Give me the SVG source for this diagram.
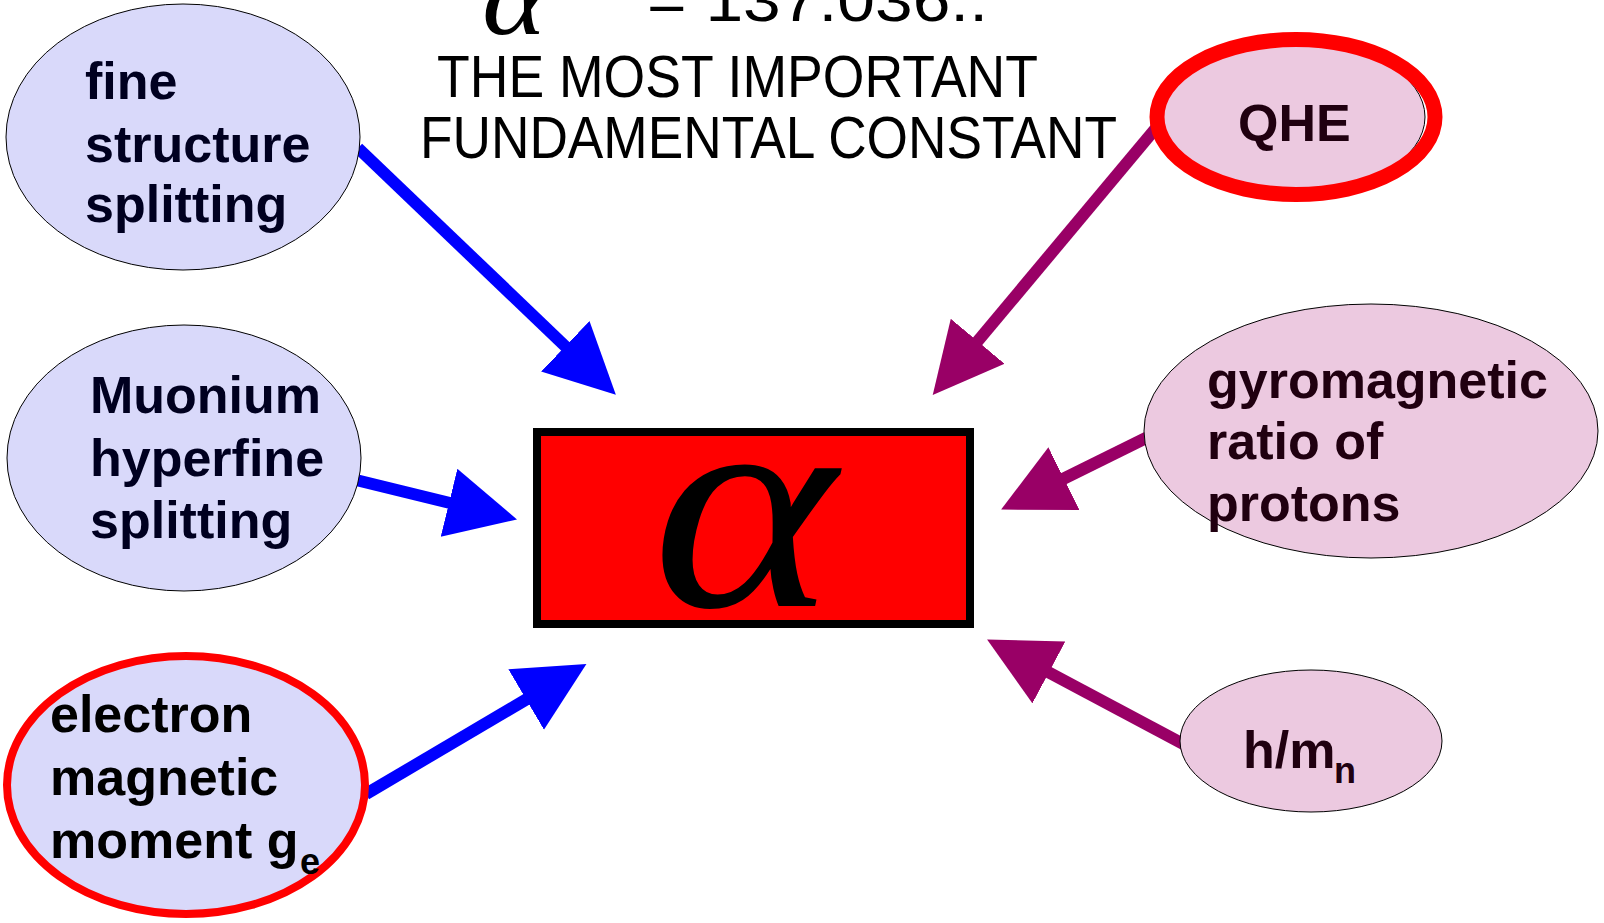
<svg xmlns="http://www.w3.org/2000/svg" width="1604" height="923" viewBox="0 0 1604 923">
<style>
.lav{fill:#d9d9fa;stroke:#000;stroke-width:1}
.pink{fill:#ecc9e0;stroke:#000;stroke-width:1}
.red{stroke:#ff0000}
.lbl{font-family:"Liberation Sans",Arial,sans-serif;font-weight:bold;font-size:52px}
.navy{fill:#000020}
.plum{fill:#200010}
.title{font-family:"Liberation Sans",Arial,sans-serif;font-size:60px;fill:#000}
.blue{stroke:#0000ff;stroke-width:12;fill:none}
.purp{stroke:#990066;stroke-width:12;fill:none}
</style>
<defs>
<marker id="ab" markerUnits="userSpaceOnUse" markerWidth="72" markerHeight="72" refX="1" refY="35" orient="auto" viewBox="0 0 72 72">
<path d="M0,0 L70,35 L0,70 z" fill="#0000ff"/>
</marker>
<marker id="ap" markerUnits="userSpaceOnUse" markerWidth="72" markerHeight="72" refX="1" refY="35" orient="auto" viewBox="0 0 72 72">
<path d="M0,0 L70,35 L0,70 z" fill="#990066"/>
</marker>
</defs>
<rect width="1604" height="923" fill="#fff"/>

<g id="title">
<text x="482" y="34" font-family="'Liberation Serif',serif" font-style="italic" font-size="106" fill="#000" textLength="64" lengthAdjust="spacingAndGlyphs">α</text>
<text x="647" y="21" class="title" font-size="72" textLength="341" lengthAdjust="spacingAndGlyphs">= 137.036..</text>
<text x="437" y="97" class="title" textLength="601" lengthAdjust="spacingAndGlyphs">THE MOST IMPORTANT</text>
<text x="420" y="158" class="title" textLength="697" lengthAdjust="spacingAndGlyphs">FUNDAMENTAL CONSTANT</text>
</g>

<g id="connectors">
<path class="blue" d="M358,148 L566,347" marker-end="url(#ab)"/>
<path class="blue" d="M356,480 L450,503" marker-end="url(#ab)"/>
<path class="blue" d="M366,794 L527,699" marker-end="url(#ab)"/>
<path class="purp" d="M1156,128 L977,342" marker-end="url(#ap)"/>
<path class="purp" d="M1148,437 L1063,479" marker-end="url(#ap)"/>
<path class="purp" d="M1187,746 L1048,672" marker-end="url(#ap)"/>
</g>

<g id="n-fine">
<ellipse class="lav" cx="183" cy="137" rx="177" ry="133"/>
<text class="lbl navy"><tspan x="85" y="99">fine</tspan><tspan x="85" y="162">structure</tspan><tspan x="85" y="222">splitting</tspan></text>
</g>

<g id="n-muonium">
<ellipse class="lav" cx="184" cy="458" rx="177" ry="133"/>
<text class="lbl navy"><tspan x="90" y="413">Muonium</tspan><tspan x="90" y="476">hyperfine</tspan><tspan x="90" y="538">splitting</tspan></text>
</g>

<g id="n-electron">
<ellipse cx="186" cy="785" rx="179" ry="129" style="fill:#d9d9fa;stroke:#ff0000;stroke-width:8"/>
<text class="lbl" fill="#000"><tspan x="50" y="732">electron</tspan><tspan x="50" y="795">magnetic</tspan><tspan x="50" y="858">moment g</tspan><tspan x="300" y="874" font-size="36">e</tspan></text>
</g>

<g id="n-qhe">
<ellipse class="pink" cx="1290" cy="117" rx="135" ry="77"/>
<ellipse cx="1296" cy="117" rx="139" ry="77.5" style="fill:none;stroke:#ff0000;stroke-width:15"/>
<text class="lbl plum" x="1238" y="141" font-size="53">QHE</text>
</g>

<g id="n-gyro">
<ellipse class="pink" cx="1371" cy="431" rx="227" ry="127"/>
<text class="lbl plum"><tspan x="1207" y="398">gyromagnetic</tspan><tspan x="1207" y="459">ratio of</tspan><tspan x="1207" y="521">protons</tspan></text>
</g>

<g id="n-hmn">
<ellipse class="pink" cx="1311" cy="741" rx="131" ry="71"/>
<text class="lbl plum"><tspan x="1243" y="768">h/m</tspan><tspan x="1334" y="783" font-size="36">n</tspan></text>
</g>

<g id="n-alpha">
<rect x="537" y="432" width="433" height="192" fill="#ff0000" stroke="#000" stroke-width="8"/>
<text x="652" y="606" font-family="'Liberation Serif',serif" font-style="italic" font-size="300" fill="#000" textLength="184" lengthAdjust="spacingAndGlyphs">α</text>
</g>
</svg>
